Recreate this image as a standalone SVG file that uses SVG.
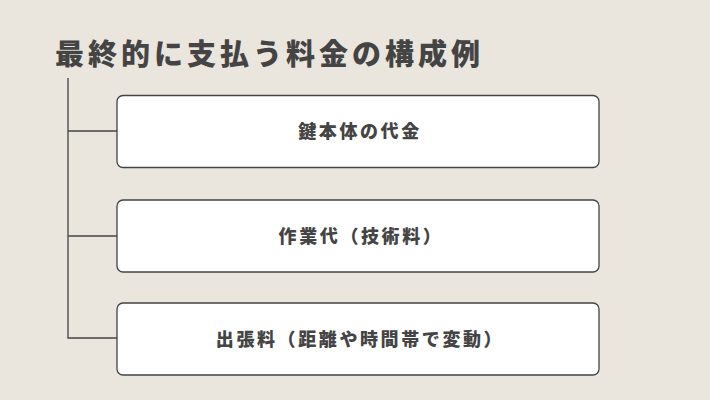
<svg xmlns="http://www.w3.org/2000/svg" width="710" height="400" viewBox="0 0 710 400">
<style>
.title{font-family:"Noto Sans CJK JP",sans-serif;font-weight:900;font-size:29px;fill:#444;letter-spacing:4px}
.box{fill:#fff;stroke:#444;stroke-width:1.3}
.lbl{font-family:"Noto Sans CJK JP",sans-serif;font-weight:900;font-size:18px;fill:#444;letter-spacing:2.6px;text-anchor:middle}
.ln{stroke:#444;stroke-width:1.3;fill:none}
</style>
<rect width="710" height="400" fill="#ebe6dd"/>
<text class="title" x="55" y="65">最終的に支払う料金の構成例</text>
<g id="connectors">
<path class="ln" d="M68 78 V338 H117 M68 131 H117 M68 236 H117"/>
</g>
<g id="node1">
<rect class="box" x="117" y="95.5" width="482" height="72" rx="6"/>
<text class="lbl" x="360" y="138">鍵本体の代金</text>
</g>
<g id="node2">
<rect class="box" x="117" y="200" width="482" height="72" rx="6"/>
<text class="lbl" x="361" y="242.5">作業代（技術料）</text>
</g>
<g id="node3">
<rect class="box" x="117" y="303" width="482" height="72" rx="6"/>
<text class="lbl" x="360" y="345.5">出張料（距離や時間帯で変動）</text>
</g>
</svg>
